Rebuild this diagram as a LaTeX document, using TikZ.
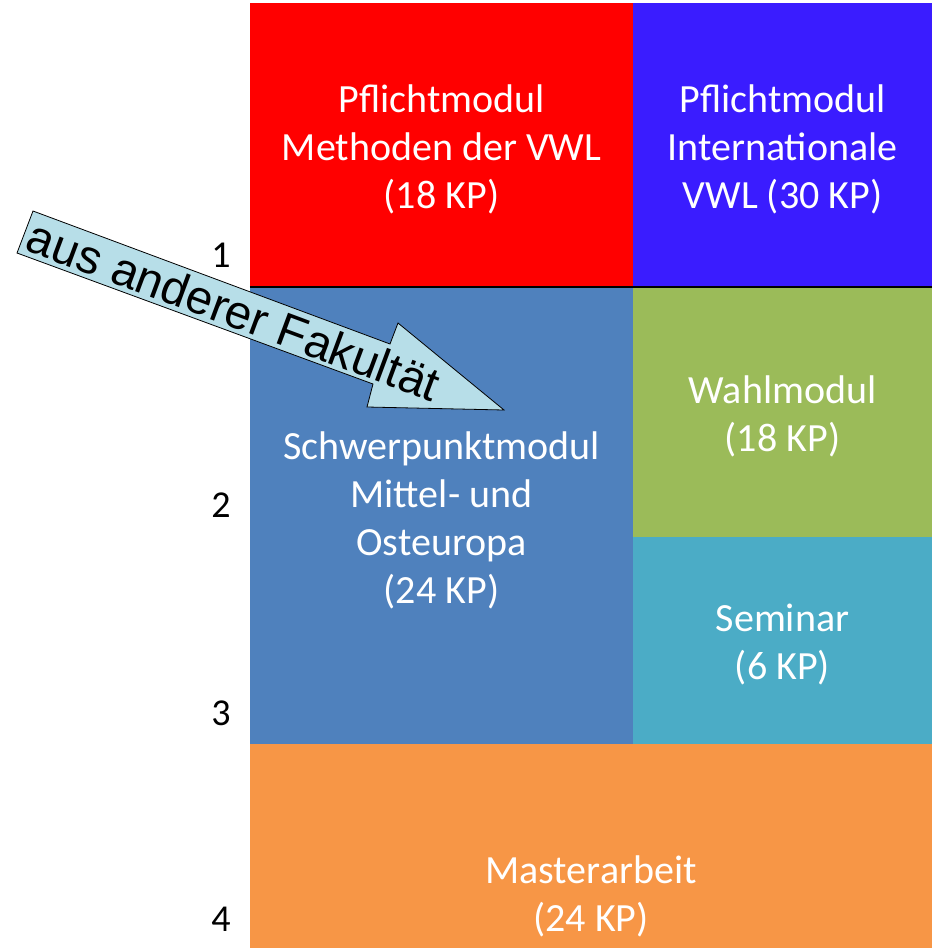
\documentclass[tikz,border=0pt]{standalone}
\usepackage{fontspec}
\setmainfont{Carlito}
\newfontfamily\arialfont{Liberation Sans}
\usetikzlibrary{positioning}
\definecolor{pflichtrot}{RGB}{255,0,0}
\definecolor{pflichtblau}{RGB}{58,28,255}
\definecolor{schwerblau}{RGB}{79,129,189}
\definecolor{wahlgruen}{RGB}{155,187,89}
\definecolor{seminartuerkis}{RGB}{75,172,198}
\definecolor{masterorange}{RGB}{247,150,70}
\definecolor{pfeilblau}{RGB}{183,222,232}
\tikzset{
    modul/.style={
        shape=rectangle,
        inner sep=0pt,
        text=white,
        align=center,
        font={\fontsize{40pt}{48pt}\selectfont}
    },
    semester/.style={
        inner sep=0pt,
        text=black,
        font={\fontsize{38pt}{46pt}\selectfont}
    },
    fakpfeil/.style={draw=black, thick, fill=pfeilblau},
}
\begin{document}
\begin{tikzpicture}
[
    x=1pt, y=-1pt,
]
\clip (0,0) rectangle (932,948);
\fill[white] (0,0) rectangle (932,948);
% module boxes
\node(methoden) at (441.5,145) [modul, fill=pflichtrot, minimum width=383pt, minimum height=284pt]{};
\node(intvwl) at (782.5,145) [modul, fill=pflichtblau, minimum width=299pt, minimum height=284pt]{};
\node(schwer) at (441.5,516) [modul, fill=schwerblau, minimum width=383pt, minimum height=457pt]{};
\node(wahl) at (782.5,412.5) [modul, fill=wahlgruen, minimum width=299pt, minimum height=251pt]{};
\node(seminar) at (782.5,640.5) [modul, fill=seminartuerkis, minimum width=299pt, minimum height=207pt]{};
\node(master) at (591,893) [modul, fill=masterorange, minimum width=682pt, minimum height=298pt]{};
\draw[line width=2pt] (methoden.south west) -- (intvwl.south east);
% module texts
\node(methodentxt) at (441.5,149) [modul]{Pflichtmodul\\Methoden der VWL\\(18 KP)};
\node(intvwltxt) at (782.5,149) [modul]{Pflichtmodul\\Internationale\\VWL (30 KP)};
\node(schwertxt) at (441.5,520) [modul]{Schwerpunktmodul\\Mittel- und\\Osteuropa\\(24 KP)};
\node(wahltxt) at (782.5,416) [modul]{Wahlmodul\\(18 KP)};
\node(seminartxt) at (782.5,644.5) [modul]{Seminar\\(6 KP)};
\node(mastertxt) at (591,896.5) [modul]{Masterarbeit\\(24 KP)};
% semester numbers
\node(sem1) at (221,255) [semester]{1};
\node(sem2) at (221,505) [semester]{2};
\node(sem3) at (221,713) [semester]{3};
\node(sem4) at (221,919) [semester]{4};
% arrow from the other faculty
\draw[fakpfeil] (33,211) -- (390,344) -- (398,323) -- (504,410) -- (367,407) -- (373,384) -- (17,253) -- cycle;
\node(fakultaet) at (234,310) [rotate=-20.4, inner sep=0pt, font={\arialfont\fontsize{47.5pt}{50pt}\selectfont}]{aus anderer Fakultät};
\end{tikzpicture}
\end{document}
